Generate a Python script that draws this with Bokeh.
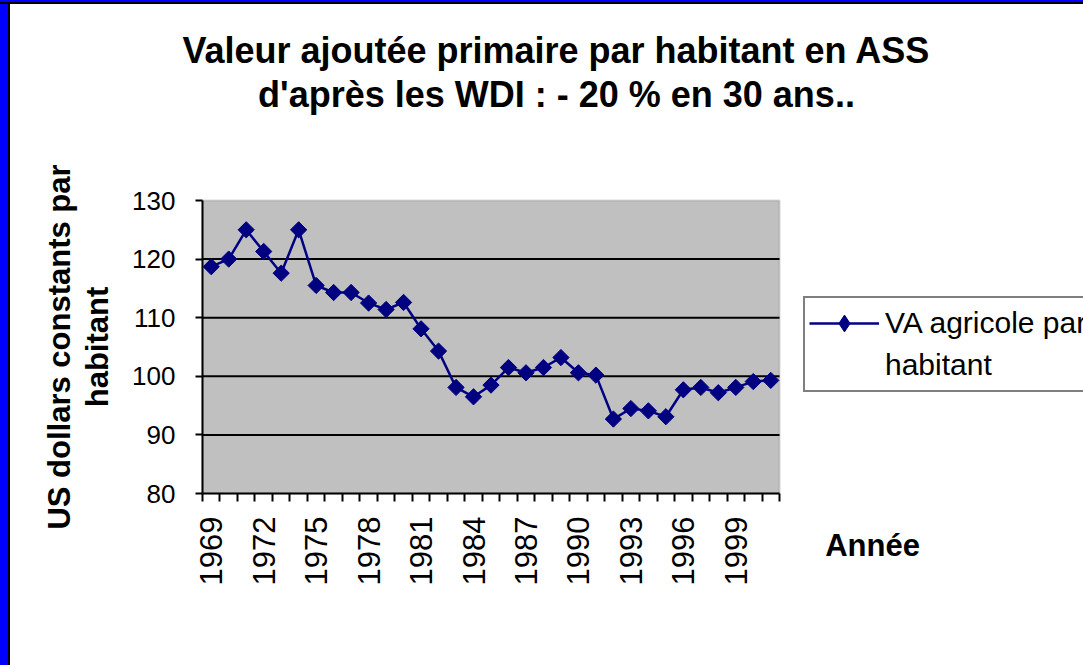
import math
from bokeh.plotting import figure
from bokeh.models import (Range1d, FixedTicker, Label, Legend, LegendItem, BoxAnnotation, Div)
from bokeh.layouts import column, row
from bokeh.embed import file_html
from bokeh.resources import INLINE

# ---- data ----
years = list(range(1969, 2002))
va_agricole = [118.7, 120.0, 125.0, 121.3, 117.6, 125.0, 115.5, 114.3, 114.3, 112.5,
               111.4, 112.6, 108.1, 104.3, 98.1, 96.5, 98.5, 101.5, 100.6, 101.5,
               103.2, 100.6, 100.2, 92.7, 94.5, 94.1, 93.1, 97.7, 98.1, 97.2,
               98.1, 99.1, 99.3]
x_tick_years = [1969, 1972, 1975, 1978, 1981, 1984, 1987, 1990, 1993, 1996, 1999]
x_tick_labels = ["1969", "1972", "1975", "1978", "1981", "1984", "1987", "1990",
                 "1993", "1996", "1999"]
y_ticks = [80, 90, 100, 110, 120, 130]
y_grid = [90, 100, 110, 120]
series_name_1 = "VA agricole par"
series_name_2 = "habitant"
title_1 = "Valeur ajoutée primaire par habitant en ASS"
title_2 = "d'après les WDI : - 20 % en 30 ans.."
y_label = "US dollars constants par\nhabitant"
x_label = "Année"

FONT = "Liberation Sans"

# ---- layout (page pixels) ----
PAGE_W, PAGE_H = 1083, 665
BAND_LEFT, BAND_TOP = 10, 4
FIG_W, FIG_H = PAGE_W - BAND_LEFT, PAGE_H - BAND_TOP
FRAME_L, FRAME_R, FRAME_T, FRAME_B = BAND_LEFT, PAGE_W, 23, PAGE_H
PLOT_L, PLOT_R, PLOT_T, PLOT_B = 202, 779, 200, 493

x0 = years[0] - 0.5
x1 = years[-1] + 0.5
ymin, ymax = y_ticks[0], y_ticks[-1]
x_per_px = (x1 - x0) / (PLOT_R - PLOT_L)
y_per_px = (ymax - ymin) / (PLOT_B - PLOT_T)
x_range = Range1d(x0 - (PLOT_L - FRAME_L) * x_per_px, x1 + (FRAME_R - PLOT_R) * x_per_px)
y_range = Range1d(ymin - (FRAME_B - PLOT_B) * y_per_px, ymax + (PLOT_T - FRAME_T) * y_per_px)

p = figure(width=FIG_W, height=FIG_H, output_backend="svg", toolbar_location=None,
           x_range=x_range, y_range=y_range,
           min_border_left=0, min_border_right=0,
           min_border_top=FRAME_T - BAND_TOP, min_border_bottom=0)
p.background_fill_color = "white"
p.border_fill_color = "white"
p.outline_line_color = None
p.xgrid.visible = False
p.ygrid.visible = False

# plot area (gray) with grey top/right border
p.add_layout(BoxAnnotation(left=x0, right=x1, bottom=ymin, top=ymax,
                           fill_color="#C0C0C0", fill_alpha=1,
                           line_color="#808080", line_width=2, level="image"))
# horizontal grid lines across the plot area
p.segment(x0=x0, x1=x1, y0=y_grid, y1=y_grid, line_color="black", line_width=2,
          level="underlay")

# y axis
ya = p.yaxis[0]
ya.fixed_location = x0
ya.bounds = (ymin, ymax)
ya.ticker = FixedTicker(ticks=y_ticks)
ya.major_tick_out = 7
ya.major_tick_in = 0
ya.minor_tick_out = 0
ya.minor_tick_in = 0
ya.major_tick_line_width = 2
ya.major_tick_line_color = "black"
ya.axis_line_width = 2
ya.axis_line_color = "black"
ya.major_label_text_font = FONT
ya.major_label_text_font_size = "26px"
ya.major_label_text_color = "black"
ya.major_label_standoff = 20
ya.axis_label = y_label
ya.axis_label_text_font = FONT
ya.axis_label_text_font_style = "bold"
ya.axis_label_text_font_size = "31px"
ya.axis_label_text_line_height = 1.1
ya.axis_label_text_color = "black"
ya.axis_label_standoff = 14

# x axis
minor = [y - 0.5 for y in years] + [x1]
xa = p.xaxis[0]
xa.fixed_location = ymin
xa.bounds = (x0, x1)
xa.ticker = FixedTicker(ticks=x_tick_years, minor_ticks=minor)
xa.major_label_overrides = {y: s for y, s in zip(x_tick_years, x_tick_labels)}
xa.major_tick_out = 0
xa.major_tick_in = 0
xa.minor_tick_out = 8
xa.minor_tick_in = 0
xa.minor_tick_line_color = "black"
xa.minor_tick_line_width = 2
xa.axis_line_width = 2
xa.axis_line_color = "black"
xa.major_label_orientation = math.pi / 2
xa.major_label_text_font = FONT
xa.major_label_text_font_size = "31px"
xa.major_label_text_color = "black"
xa.major_label_standoff = 15

# series
NAVY = "#000080"
ln = p.line(years, va_agricole, line_color=NAVY, line_width=2.5)
sc = p.scatter(years, va_agricole, marker="square", angle=math.pi / 4, size=11.5,
               fill_color=NAVY, line_color=NAVY)
# legend-only marker (diamond shape, no visible point on the plot)
legend_marker = p.scatter([float("nan")], [float("nan")], marker="diamond", size=15,
                          fill_color=NAVY, line_color=NAVY)
dummy = p.line([], [], line_alpha=0)


def fx(px):
    return px - FRAME_L


def fy(py):
    return FRAME_B - py


legend = Legend(items=[LegendItem(label=series_name_1, renderers=[ln, legend_marker]),
                       LegendItem(label=series_name_2, renderers=[dummy])],
                location=(fx(803), fy(392)), margin=0, padding=4, spacing=0,
                glyph_width=70, glyph_height=42, label_height=42, label_standoff=6,
                label_text_font=FONT, label_text_font_size="30px",
                label_text_color="black",
                border_line_color="black", border_line_width=2,
                background_fill_color="white", background_fill_alpha=1)
p.add_layout(legend)

for txt, yy in ((title_1, 50), (title_2, 94)):
    p.add_layout(Label(x=fx(556), y=fy(yy), x_units="screen", y_units="screen", text=txt,
                       text_font=FONT, text_font_style="bold", text_font_size="36px",
                       text_align="center", text_baseline="middle", text_color="black"))
p.add_layout(Label(x=fx(872), y=fy(545), x_units="screen", y_units="screen", text=x_label,
                   text_font=FONT, text_font_style="bold", text_font_size="31px",
                   text_align="center", text_baseline="middle", text_color="black"))

top_band = Div(text="", width=PAGE_W, height=BAND_TOP, margin=0,
               styles={"background": "linear-gradient(180deg, #0000FF 0px, #0000FF 2px, #000000 2px, #000000 4px)"})
left_band = Div(text="", width=BAND_LEFT, height=FIG_H, margin=0,
                styles={"background": "linear-gradient(90deg, #0000FF 0px, #0000FF 8px, #000000 8px, #000000 10px)"})
page = column(top_band, row(left_band, p, spacing=0, margin=0), spacing=0, margin=0)

open("out.html", "w").write(file_html(page, INLINE))
